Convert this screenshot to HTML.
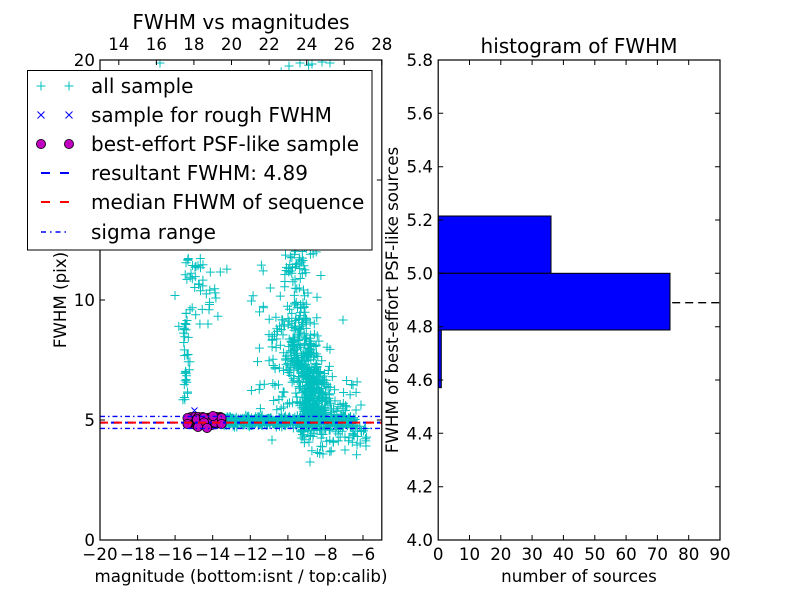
<!DOCTYPE html>
<html><head><meta charset="utf-8"><style>
html,body{margin:0;padding:0;background:#fff;}
svg{display:block;}
text{font-family:"DejaVu Sans","Liberation Sans",sans-serif;fill:#000;}
</style></head><body>
<svg id="s" width="800" height="600" viewBox="0 0 800 600" xmlns="http://www.w3.org/2000/svg">
<defs><clipPath id="c1"><rect x="100" y="60" width="281.8" height="480"/></clipPath>
<clipPath id="c2"><rect x="438.2" y="60" width="281.8" height="480"/></clipPath></defs>
<rect x="0" y="0" width="800" height="600" fill="#fff"/>
<g clip-path="url(#c1)">
<path id="cy" d="" stroke="#00bfbf" stroke-width="1" fill="none"/>
<path id="bx" d="" stroke="#0000ff" stroke-width="1" fill="none"/>
<g id="pc"></g>
<line x1="100" y1="422.6" x2="382" y2="422.6" stroke="#0000ff" stroke-width="2" stroke-dasharray="8,6" stroke-dashoffset="3"/>
<line x1="100" y1="422.6" x2="382" y2="422.6" stroke="#ff0000" stroke-width="2" stroke-dasharray="8,6"/>
<line x1="100" y1="416.4" x2="382" y2="416.4" stroke="#0000ff" stroke-width="1.4" stroke-dasharray="5,3,1.5,3"/>
<line x1="100" y1="428.4" x2="382" y2="428.4" stroke="#0000ff" stroke-width="1.4" stroke-dasharray="5,3,1.5,3"/>
</g>
<rect x="100" y="60" width="281.8" height="480" fill="none" stroke="#000" stroke-width="1.2"/>
<g stroke="#000" stroke-width="1">
<path d="M100,540h5M100,420h5M100,300h5M100,180h5M100,60h5M381.8,540h-5M381.8,420h-5M381.8,300h-5M381.8,180h-5M381.8,60h-5"/>
<path d="M100,540v-5M137.6,540v-5M175.1,540v-5M212.7,540v-5M250.3,540v-5M287.9,540v-5M325.4,540v-5M363,540v-5"/>
<path d="M118.8,60v5M156.4,60v5M193.9,60v5M231.5,60v5M269.1,60v5M306.7,60v5M344.2,60v5M381.8,60v5"/>
</g>
<g font-size="16.67" text-anchor="middle">
<text x="100" y="560">−20</text><text x="137.6" y="560">−18</text><text x="175.1" y="560">−16</text><text x="212.7" y="560">−14</text><text x="250.3" y="560">−12</text><text x="287.9" y="560">−10</text><text x="325.4" y="560">−8</text><text x="363" y="560">−6</text>
<text x="118.8" y="50">14</text><text x="156.4" y="50">16</text><text x="193.9" y="50">18</text><text x="231.5" y="50">20</text><text x="269.1" y="50">22</text><text x="306.7" y="50">24</text><text x="344.2" y="50">26</text><text x="381.8" y="50">28</text>
<text x="241" y="582">magnitude (bottom:isnt / top:calib)</text>
<text x="66" y="300" transform="rotate(-90 66 300)">FWHM (pix)</text>
</g>
<g font-size="16.67" text-anchor="end">
<text x="95" y="546">0</text><text x="95" y="426">5</text><text x="95" y="306">10</text><text x="95" y="186">15</text><text x="95" y="66">20</text>
</g>
<text x="241" y="29" font-size="20" text-anchor="middle">FWHM vs magnitudes</text>

<!-- legend -->
<rect x="27.5" y="70.5" width="344.5" height="179.5" fill="#fff" stroke="#000" stroke-width="1"/>
<g stroke="#00bfbf" stroke-width="1"><path d="M36.5,86h9M41,81.5v9M64.5,86h9M69,81.5v9"/></g>
<g stroke="#0000ff" stroke-width="1"><path d="M37.5,111.5l7,7M37.5,118.5l7,-7M65.5,111.5l7,7M65.5,118.5l7,-7"/></g>
<circle cx="41" cy="144" r="4.6" fill="#bf00bf" stroke="#000" stroke-width="0.8"/>
<circle cx="69" cy="144" r="4.6" fill="#bf00bf" stroke="#000" stroke-width="0.8"/>
<line x1="41" y1="173" x2="69" y2="173" stroke="#0000ff" stroke-width="2" stroke-dasharray="9,10"/>
<line x1="41" y1="202" x2="69" y2="202" stroke="#ff0000" stroke-width="2" stroke-dasharray="9,10"/>
<line x1="41" y1="232" x2="69" y2="232" stroke="#0000ff" stroke-width="1.4" stroke-dasharray="5,4,1.5,4"/>
<g font-size="20">
<text x="91" y="93">all sample</text>
<text x="91" y="122">sample for rough FWHM</text>
<text x="91" y="151">best-effort PSF-like sample</text>
<text x="91" y="180">resultant FWHM: 4.89</text>
<text x="91" y="209">median FHWM of sequence</text>
<text x="91" y="239">sigma range</text>
</g>

<!-- right axes -->
<g clip-path="url(#c2)">
<line x1="438.2" y1="302.7" x2="720" y2="302.7" stroke="#000" stroke-width="1.3" stroke-dasharray="8,5"/>
<rect x="438.2" y="216" width="112.8" height="57.3" fill="#0000ff" stroke="#000" stroke-width="1"/>
<rect x="438.2" y="273.3" width="231.8" height="56.7" fill="#0000ff" stroke="#000" stroke-width="1"/>
<rect x="438.2" y="330" width="3.1" height="57.7" fill="#0000ff" stroke="#000" stroke-width="1"/>
</g>
<rect x="438.2" y="60" width="281.8" height="480" fill="none" stroke="#000" stroke-width="1.2"/>
<g stroke="#000" stroke-width="1">
<path d="M438.2,486.7h5M438.2,433.3h5M438.2,380h5M438.2,326.7h5M438.2,273.3h5M438.2,220h5M438.2,166.7h5M438.2,113.3h5M720,486.7h-5M720,433.3h-5M720,380h-5M720,326.7h-5M720,273.3h-5M720,220h-5M720,166.7h-5M720,113.3h-5"/>
<path d="M469.5,540v-5M500.8,540v-5M532.1,540v-5M563.4,540v-5M594.8,540v-5M626.1,540v-5M657.4,540v-5M688.7,540v-5M469.5,60v5M500.8,60v5M532.1,60v5M563.4,60v5M594.8,60v5M626.1,60v5M657.4,60v5M688.7,60v5"/>
</g>
<g font-size="16.67" text-anchor="end">
<text x="433" y="546">4.0</text><text x="433" y="492.7">4.2</text><text x="433" y="439.3">4.4</text><text x="433" y="386">4.6</text><text x="433" y="332.7">4.8</text><text x="433" y="279.3">5.0</text><text x="433" y="226">5.2</text><text x="433" y="172.7">5.4</text><text x="433" y="119.3">5.6</text><text x="433" y="66">5.8</text>
</g>
<g font-size="16.67" text-anchor="middle">
<text x="438.2" y="560">0</text><text x="469.5" y="560">10</text><text x="500.8" y="560">20</text><text x="532.1" y="560">30</text><text x="563.4" y="560">40</text><text x="594.8" y="560">50</text><text x="626.1" y="560">60</text><text x="657.4" y="560">70</text><text x="688.7" y="560">80</text><text x="720" y="560">90</text>
<text x="579" y="582">number of sources</text>
<text x="398" y="300" transform="rotate(-90 398 300)">FWHM of best-effort PSF-like sources</text>
</g>
<text x="579" y="53" font-size="20" text-anchor="middle">histogram of FWHM</text>
</svg>
<script>
(function(){
var seed=12345;
function R(){seed|=0;seed=seed+0x6D2B79F5|0;var t=Math.imul(seed^seed>>>15,1|seed);t=t+Math.imul(t^t>>>7,61|t)^t;return((t^t>>>14)>>>0)/4294967296;}
function g(){var u=R()||1e-9,v=R();return Math.sqrt(-2*Math.log(u))*Math.cos(2*Math.PI*v);}
var d=[];var i,x,y,k;
function add(x,y){d.push("M"+(x-4.5).toFixed(1)+","+y.toFixed(1)+"h9M"+x.toFixed(1)+","+(y-4.5).toFixed(1)+"v9");}
// band
for(i=0;i<600;i++){x=224+130*Math.pow(R(),1.3);y=421+Math.max(-7,Math.min(7,g()*2.3));add(x,y);}
for(i=0;i<60;i++){add(225+R()*135,421+g()*4);}
// main plume (elongated, slanted)
for(i=0;i<480;i++){k=Math.abs(g())*55;if(k>165)k=165*R();y=420-k;x=317-k*0.15+g()*9;add(x,y);}
// main plume upper
for(i=0;i<110;i++){y=60+R()*200;x=300+g()*11;add(x,y);}
for(i=0;i<25;i++){add(284+R()*22,255+R()*30);}
// below band fan
for(i=0;i<80;i++){k=Math.abs(g());x=300+R()*68;y=426+k*11;add(x,y);}
add(310,462);add(272,440);add(323,454);add(345,450);add(357,445);add(366,446);
// right scattered
for(i=0;i<22;i++){add(328+R()*35,380+R()*40);}
add(343,320);add(353,385);add(361,405);add(356,410);
// left plume
for(i=0;i<35;i++){add(186+g()*2,310+R()*90);}
for(i=0;i<30;i++){add(205+g()*10,255+R()*70);}
for(i=0;i<12;i++){add(184+R()*12,255+R()*40);}
// middle scattered
for(i=0;i<45;i++){add(248+R()*52,262+R()*145);}
for(i=0;i<35;i++){add(270+R()*25,300+R()*110);}
// top points
add(160,63);add(300,63);add(312,64);add(322,62);add(330,63);add(289,66);
document.getElementById("cy").setAttribute("d",d.join(""));
var b=[];
for(i=0;i<12;i++){x=190+R()*32;y=421+g()*2;b.push("M"+(x-3.5).toFixed(1)+","+(y-3.5).toFixed(1)+"l7,7M"+(x-3.5).toFixed(1)+","+(y+3.5).toFixed(1)+"l7,-7");}
b.push("M191.5,407.5l6,6M191.5,413.5l6,-6");
document.getElementById("bx").setAttribute("d",b.join(""));
var s="";
function C(x,y){s+='<circle cx="'+x.toFixed(1)+'" cy="'+y.toFixed(1)+'" r="4.6" fill="#bf00bf" stroke="#000" stroke-width="0.8"/>';}
for(i=0;i<150;i++){x=188+R()*34;y=421+Math.max(-4,Math.min(4,g()*2));C(x,y);}
C(187.5,418);C(187.5,424);C(221.5,418);C(221.5,424);C(213,416);C(207,428);C(198,427);
document.getElementById("pc").innerHTML=s;
})();
</script>
</body></html>
